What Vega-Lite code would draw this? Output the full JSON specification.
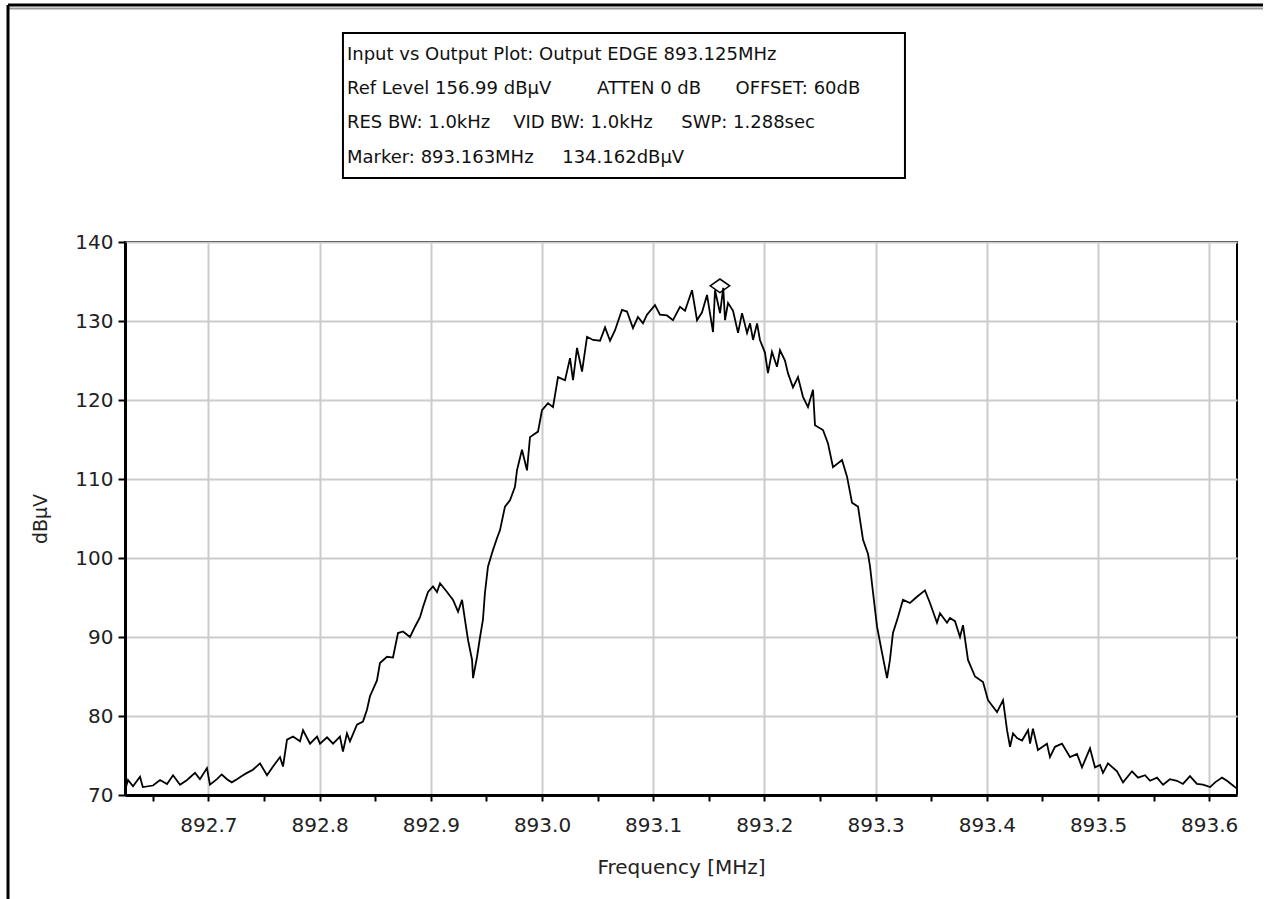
{
  "$schema": "https://vega.github.io/schema/vega-lite/v6.json",
  "width": 1112,
  "height": 553,
  "autosize": {"type": "none"},
  "padding": {"left": 125, "top": 242, "right": 31, "bottom": 104},
  "background": "white",
  "config": {
    "view": {"stroke": "black", "strokeWidth": 2},
    "font": "DejaVu Sans"
  },
  "datasets": {
    "spectrum": [
      {"f":892.625,"db":70.6},{"f":892.6277,"db":71.9},{"f":892.6322,"db":71.1},{"f":892.6385,"db":72.3},{"f":892.641,"db":71.0},{"f":892.6502,"db":71.2},{"f":892.6565,"db":71.9},{"f":892.6628,"db":71.4},{"f":892.6682,"db":72.5},{"f":892.6745,"db":71.3},{"f":892.6808,"db":71.9},{"f":892.688,"db":72.8},{"f":892.6924,"db":72.0},{"f":892.6987,"db":73.4},{"f":892.7014,"db":71.3},{"f":892.7077,"db":72.0},{"f":892.712,"db":72.6},{"f":892.7167,"db":72.0},{"f":892.721,"db":71.6},{"f":892.7257,"db":72.0},{"f":892.730,"db":72.4},{"f":892.7347,"db":72.8},{"f":892.7401,"db":73.2},{"f":892.7464,"db":74.0},{"f":892.7527,"db":72.5},{"f":892.7581,"db":73.6},{"f":892.7644,"db":74.8},{"f":892.7671,"db":73.6},{"f":892.7707,"db":77.0},{"f":892.7761,"db":77.4},{"f":892.7824,"db":76.8},{"f":892.7851,"db":78.2},{"f":892.7914,"db":76.5},{"f":892.7977,"db":77.4},{"f":892.8004,"db":76.5},{"f":892.8067,"db":77.3},{"f":892.8121,"db":76.5},{"f":892.8183,"db":77.4},{"f":892.821,"db":75.5},{"f":892.8246,"db":77.8},{"f":892.8273,"db":76.8},{"f":892.8336,"db":78.9},{"f":892.839,"db":79.3},{"f":892.8426,"db":80.8},{"f":892.8453,"db":82.5},{"f":892.8516,"db":84.5},{"f":892.8543,"db":86.7},{"f":892.8606,"db":87.5},{"f":892.866,"db":87.4},{"f":892.8705,"db":90.5},{"f":892.875,"db":90.7},{"f":892.8813,"db":90.0},{"f":892.8858,"db":91.3},{"f":892.8903,"db":92.5},{"f":892.893,"db":93.8},{"f":892.8975,"db":95.7},{"f":892.902,"db":96.4},{"f":892.9056,"db":95.7},{"f":892.9083,"db":96.8},{"f":892.9146,"db":95.7},{"f":892.92,"db":94.7},{"f":892.9245,"db":93.2},{"f":892.9281,"db":94.7},{"f":892.9308,"db":92.1},{"f":892.9335,"db":89.6},{"f":892.9371,"db":87.1},{"f":892.938,"db":84.8},{"f":892.9416,"db":87.5},{"f":892.9443,"db":90.0},{"f":892.9469,"db":92.2},{"f":892.9487,"db":95.6},{"f":892.9514,"db":98.9},{"f":892.9559,"db":101.0},{"f":892.9595,"db":102.5},{"f":892.9622,"db":103.5},{"f":892.9667,"db":106.5},{"f":892.9712,"db":107.3},{"f":892.9757,"db":109.0},{"f":892.9775,"db":111.1},{"f":892.982,"db":113.7},{"f":892.9865,"db":111.1},{"f":892.9892,"db":115.3},{"f":892.9964,"db":116.0},{"f":893.0,"db":118.7},{"f":893.0054,"db":119.6},{"f":893.0099,"db":119.1},{"f":893.0144,"db":122.9},{"f":893.0207,"db":122.5},{"f":893.0252,"db":125.3},{"f":893.0279,"db":122.5},{"f":893.0315,"db":126.6},{"f":893.036,"db":123.6},{"f":893.0405,"db":128.0},{"f":893.0459,"db":127.6},{"f":893.0522,"db":127.5},{"f":893.0567,"db":129.2},{"f":893.0612,"db":127.5},{"f":893.0656,"db":128.8},{"f":893.0719,"db":131.4},{"f":893.0764,"db":131.2},{"f":893.0818,"db":129.1},{"f":893.0863,"db":130.5},{"f":893.0908,"db":129.7},{"f":893.0944,"db":130.8},{"f":893.1016,"db":132.0},{"f":893.1061,"db":130.8},{"f":893.1124,"db":130.7},{"f":893.1178,"db":130.1},{"f":893.1241,"db":131.8},{"f":893.1286,"db":131.3},{"f":893.1349,"db":133.9},{"f":893.1394,"db":130.1},{"f":893.1439,"db":131.1},{"f":893.1484,"db":133.3},{"f":893.1538,"db":128.6},{"f":893.1556,"db":133.9},{"f":893.1601,"db":131.0},{"f":893.163,"db":134.2},{"f":893.1646,"db":130.1},{"f":893.1673,"db":132.3},{"f":893.1718,"db":131.3},{"f":893.1763,"db":128.5},{"f":893.1799,"db":131.0},{"f":893.1844,"db":128.5},{"f":893.1871,"db":129.7},{"f":893.1898,"db":127.6},{"f":893.1934,"db":129.7},{"f":893.196,"db":127.6},{"f":893.2005,"db":126.0},{"f":893.2032,"db":123.4},{"f":893.2068,"db":126.1},{"f":893.2113,"db":124.2},{"f":893.214,"db":126.3},{"f":893.2185,"db":125.0},{"f":893.2212,"db":123.4},{"f":893.2257,"db":121.6},{"f":893.2302,"db":122.9},{"f":893.2347,"db":120.4},{"f":893.2392,"db":119.1},{"f":893.2437,"db":121.3},{"f":893.2455,"db":116.8},{"f":893.2527,"db":116.2},{"f":893.2572,"db":114.5},{"f":893.2617,"db":111.5},{"f":893.2698,"db":112.4},{"f":893.2743,"db":110.3},{"f":893.2788,"db":107.0},{"f":893.2842,"db":106.5},{"f":893.2887,"db":102.3},{"f":893.2932,"db":100.5},{"f":893.295,"db":98.9},{"f":893.2977,"db":95.6},{"f":893.3013,"db":91.3},{"f":893.3058,"db":88.0},{"f":893.3103,"db":84.8},{"f":893.3129,"db":87.1},{"f":893.3156,"db":90.5},{"f":893.3201,"db":92.5},{"f":893.3246,"db":94.7},{"f":893.3309,"db":94.3},{"f":893.3372,"db":95.1},{"f":893.3444,"db":95.9},{"f":893.3489,"db":94.3},{"f":893.3552,"db":91.8},{"f":893.3579,"db":93.0},{"f":893.3642,"db":91.8},{"f":893.3669,"db":92.4},{"f":893.3714,"db":92.0},{"f":893.3759,"db":90.0},{"f":893.3786,"db":91.5},{"f":893.3831,"db":87.1},{"f":893.3894,"db":85.0},{"f":893.3966,"db":84.3},{"f":893.4011,"db":82.0},{"f":893.4092,"db":80.5},{"f":893.4146,"db":82.0},{"f":893.4182,"db":78.2},{"f":893.4209,"db":76.1},{"f":893.4236,"db":77.8},{"f":893.4272,"db":77.2},{"f":893.4317,"db":76.9},{"f":893.4371,"db":78.2},{"f":893.4389,"db":76.5},{"f":893.4415,"db":78.4},{"f":893.446,"db":75.7},{"f":893.4541,"db":76.5},{"f":893.4568,"db":74.8},{"f":893.4613,"db":76.1},{"f":893.4676,"db":76.5},{"f":893.4748,"db":74.8},{"f":893.4811,"db":75.2},{"f":893.4856,"db":73.5},{"f":893.4928,"db":75.9},{"f":893.4973,"db":73.5},{"f":893.5018,"db":73.8},{"f":893.5045,"db":72.8},{"f":893.509,"db":74.0},{"f":893.5171,"db":73.0},{"f":893.5225,"db":71.6},{"f":893.5306,"db":73.0},{"f":893.536,"db":72.2},{"f":893.5423,"db":72.5},{"f":893.5468,"db":71.8},{"f":893.5531,"db":72.2},{"f":893.5585,"db":71.3},{"f":893.5647,"db":72.0},{"f":893.571,"db":71.8},{"f":893.5764,"db":71.4},{"f":893.5827,"db":72.4},{"f":893.589,"db":71.4},{"f":893.5944,"db":71.3},{"f":893.6008,"db":71.0},{"f":893.6053,"db":71.6},{"f":893.6115,"db":72.2},{"f":893.616,"db":71.8},{"f":893.6205,"db":71.3},{"f":893.6232,"db":71.0},{"f":893.625,"db":70.8}
    ],
    "one": [{}]
  },
  "layer": [
    {
      "data": {"name": "spectrum"},
      "mark": {"type": "line", "color": "black", "strokeWidth": 1.8, "clip": true},
      "encoding": {
        "x": {
          "field": "f", "type": "quantitative",
          "scale": {"domain": [892.625, 893.625], "nice": false, "zero": false},
          "axis": {
            "title": "Frequency [MHz]",
            "values": [892.65, 892.7, 892.75, 892.8, 892.85, 892.9, 892.95, 893.0, 893.05, 893.1, 893.15, 893.2, 893.25, 893.3, 893.35, 893.4, 893.45, 893.5, 893.55, 893.6],
            "labelExpr": "round(datum.value*20) % 2 === 0 ? format(datum.value, '.1f') : ''",
            "grid": true,
            "gridColor": "#cccccc",
            "gridWidth": 2,
            "gridOpacity": {"condition": {"test": "round(datum.value*20) % 2 !== 0", "value": 0}, "value": 1},
            "domainColor": "black", "domainWidth": 3,
            "tickColor": "black", "tickWidth": 2, "tickSize": 6,
            "labelFont": "DejaVu Sans", "labelFontSize": 20, "labelColor": "#222", "labelPadding": 14,
            "titleFont": "DejaVu Sans", "titleFontSize": 20, "titleFontWeight": "normal", "titleColor": "#222", "titlePadding": 22
          }
        },
        "y": {
          "field": "db", "type": "quantitative",
          "scale": {"domain": [70, 140], "nice": false, "zero": false},
          "axis": {
            "title": "dBµV",
            "values": [70, 75, 80, 85, 90, 95, 100, 105, 110, 115, 120, 125, 130, 135, 140],
            "labelExpr": "datum.value % 10 === 0 ? datum.value : ''",
            "grid": true,
            "gridColor": "#cccccc",
            "gridWidth": 2,
            "gridOpacity": {"condition": {"test": "datum.value % 10 !== 0", "value": 0}, "value": 1},
            "domainColor": "black", "domainWidth": 3,
            "tickColor": "black", "tickWidth": 2, "tickSize": 7,
            "labelFont": "DejaVu Sans", "labelFontSize": 20, "labelColor": "#222", "labelPadding": 5,
            "titleFont": "DejaVu Sans", "titleFontSize": 19, "titleFontWeight": "normal", "titleColor": "#222", "titlePadding": 24
          }
        }
      }
    },
    {
      "data": {"name": "one"},
      "mark": {"type": "point", "shape": "M-1,0L0,-0.7L1,0L0,0.7Z", "filled": false, "stroke": "black", "strokeWidth": 1.5, "size": 380, "opacity": 1},
      "encoding": {
        "x": {"datum": 893.16, "type": "quantitative"},
        "y": {"datum": 134.45, "type": "quantitative"}
      }
    },
    {
      "data": {"name": "one"},
      "mark": {"type": "rect", "fill": "white", "stroke": "black", "strokeWidth": 2},
      "encoding": {
        "x": {"datum": 892.821, "type": "quantitative"},
        "x2": {"datum": 893.3264},
        "y": {"datum": 166.46, "type": "quantitative"},
        "y2": {"datum": 148.1}
      }
    },
    {
      "data": {"name": "one"},
      "mark": {"type": "text", "align": "left", "baseline": "middle", "font": "DejaVu Sans", "fontSize": 18, "lineHeight": 34.2, "color": "#111",
        "text": ["Input vs Output Plot: Output EDGE 893.125MHz", "Ref Level 156.99 dBµV\u00a0\u00a0\u00a0\u00a0\u00a0\u00a0\u00a0\u00a0ATTEN 0 dB\u00a0\u00a0\u00a0\u00a0\u00a0\u00a0OFFSET: 60dB", "RES BW: 1.0kHz\u00a0\u00a0\u00a0\u00a0VID BW: 1.0kHz\u00a0\u00a0\u00a0\u00a0\u00a0SWP: 1.288sec", "Marker: 893.163MHz\u00a0\u00a0\u00a0\u00a0\u00a0134.162dBµV"]},
      "encoding": {
        "x": {"datum": 892.8246, "type": "quantitative"},
        "y": {"datum": 163.67, "type": "quantitative"}
      }
    },
    {
      "data": {"name": "one"},
      "mark": {"type": "rule", "color": "black", "strokeWidth": 3},
      "encoding": {
        "x": {"datum": 892.5198, "type": "quantitative"},
        "x2": {"datum": 893.6484},
        "y": {"datum": 170.0, "type": "quantitative"}
      }
    },
    {
      "data": {"name": "one"},
      "mark": {"type": "rule", "color": "#9a9a9a", "strokeWidth": 2},
      "encoding": {
        "x": {"datum": 892.5198, "type": "quantitative"},
        "x2": {"datum": 893.6484},
        "y": {"datum": 169.55, "type": "quantitative"}
      }
    },
    {
      "data": {"name": "one"},
      "mark": {"type": "rule", "color": "black", "strokeWidth": 3},
      "encoding": {
        "x": {"datum": 892.5198, "type": "quantitative"},
        "y": {"datum": 170.0, "type": "quantitative"},
        "y2": {"datum": 55}
      }
    }
  ]
}
